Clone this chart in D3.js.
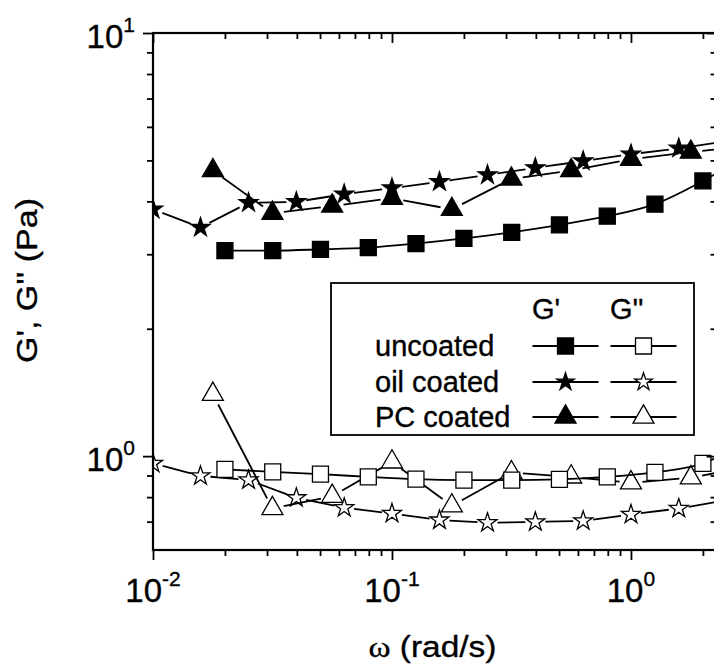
<!DOCTYPE html>
<html>
<head>
<meta charset="utf-8">
<script src="https://cdnjs.cloudflare.com/ajax/libs/d3/7.8.5/d3.min.js"></script>
<style>
    html, body { margin: 0; padding: 0; background: #fff; }
    svg { display: block; }
    text { font-family: "Liberation Sans", Arial, sans-serif; fill: #000; stroke: #000; stroke-width: 0.35px; }
</style>
</head>
<body>
<div id="chart"></div>
<script>
// frequency points (rad/s)
var uncoatedW = [0.02, 0.0317, 0.0502, 0.0796, 0.126, 0.2, 0.317, 0.502, 0.796, 1.26, 2.0, 3.17];
var uncoatedG1 = [3.06, 3.06, 3.08, 3.11, 3.18, 3.27, 3.38, 3.52, 3.69, 3.94, 4.47, 5.2];
var uncoatedG2 = [0.930, 0.918, 0.907, 0.893, 0.882, 0.878, 0.878, 0.881, 0.893, 0.915, 0.961, 1.10];

var oilW = [0.01, 0.0158, 0.0251, 0.0398, 0.0631, 0.1, 0.158, 0.251, 0.398, 0.631, 1.0, 1.585, 2.51];
var oilG1 = [3.83, 3.47, 3.97, 3.99, 4.16, 4.30, 4.45, 4.62, 4.80, 4.98, 5.17, 5.34, 5.55];
var oilG2 = [0.961, 0.898, 0.878, 0.797, 0.755, 0.732, 0.706, 0.696, 0.699, 0.703, 0.728, 0.752, 0.787];

var pcW = [0.0178, 0.0316, 0.0562, 0.1, 0.178, 0.316, 0.562, 1.0, 1.78, 3.16];
var pcG1 = [4.73, 3.75, 3.90, 4.07, 3.83, 4.52, 4.73, 5.03, 5.23, 5.41];
var pcG2 = [1.40, 0.752, 0.804, 0.969, 0.763, 0.914, 0.893, 0.865, 0.889, 0.947];

var legendNames = ["uncoated", "oil coated", "PC coated"];
var legendHeads = ["G'", "G''"];

var xMajor = [0.01, 0.1, 1];
var xExp = ["-2", "-1", "0"];
var xMinor = [0.02, 0.03, 0.04, 0.05, 0.06, 0.07, 0.08, 0.09, 0.2, 0.3, 0.4, 0.5, 0.6, 0.7, 0.8, 0.9, 2];
var yMajor = [1, 10];
var yExp = ["0", "1"];
var yMinor = [0.7, 0.8, 0.9, 2, 3, 4, 5, 6, 7, 8, 9];

(function () {
    "use strict";

    var W = 714, H = 666,
        left = 153, top = 33, right = 716.5, bottom = 550;

    var svg = d3.select("#chart")
        .append("svg")
        .attr("width", W)
        .attr("height", H);

    var x = d3.scaleLog().domain([0.01, 2.28]).range([left, right]);
    var y = d3.scaleLog().domain([0.6, 10]).range([bottom, top]);

    svg.append("clipPath").attr("id", "plotclip")
        .append("rect")
        .attr("x", left).attr("y", top)
        .attr("width", right - left).attr("height", bottom - top);

    var sq = d3.symbol().type(d3.symbolSquare).size(256),
        tri = d3.symbol().type(d3.symbolTriangle).size(191),
        star = d3.symbol().type(d3.symbolStar).size(112),
        starSmall = d3.symbol().type(d3.symbolStar).size(97);

    var plot = svg.append("g").attr("clip-path", "url(#plotclip)");

    // line pieces that stop short of the symbols
    var gapped = function (ws, vs, gap) {
        var out = [];
        for (var i = 0; i < ws.length - 1; i++) {
            var x1 = x(ws[i]), y1 = y(vs[i]), x2 = x(ws[i + 1]), y2 = y(vs[i + 1]);
            var dx = x2 - x1, dy = y2 - y1, len = Math.sqrt(dx * dx + dy * dy);
            if (len <= 2 * gap) { continue; }
            var ux = dx / len, uy = dy / len;
            out.push([x1 + ux * gap, y1 + uy * gap, x2 - ux * gap, y2 - uy * gap]);
        }
        return out;
    };

    var drawGapped = function (ws, vs, gap) {
        plot.append("g").selectAll("line")
            .data(gapped(ws, vs, gap))
            .enter()
            .append("line")
            .attr("x1", function (d) { return d[0]; })
            .attr("y1", function (d) { return d[1]; })
            .attr("x2", function (d) { return d[2]; })
            .attr("y2", function (d) { return d[3]; })
            .attr("stroke", "#000")
            .attr("stroke-width", 1.8);
    };

    var drawCurve = function (ws, vs) {
        var line = d3.line()
            .x(function (d) { return x(d[0]); })
            .y(function (d) { return y(d[1]); })
            .curve(d3.curveMonotoneX);
        plot.append("path")
            .datum(d3.zip(ws, vs))
            .attr("d", line)
            .attr("fill", "none")
            .attr("stroke", "#000")
            .attr("stroke-width", 1.8);
    };

    var drawMarks = function (ws, vs, sym, filled) {
        plot.append("g").selectAll("path")
            .data(d3.zip(ws, vs))
            .enter()
            .append("path")
            .attr("transform", function (d) { return "translate(" + x(d[0]) + "," + y(d[1]) + ")"; })
            .attr("d", sym)
            .attr("fill", filled ? "#000" : "#fff")
            .attr("stroke", "#000")
            .attr("stroke-width", 1.3);
    };

    // oil coated
    drawGapped(oilW, oilG1, 10);
    drawMarks(oilW, oilG1, star, true);
    drawGapped(oilW, oilG2, 10);
    drawMarks(oilW, oilG2, star, false);

    // PC coated
    drawGapped(pcW, pcG1, 11.5);
    drawMarks(pcW, pcG1, tri, true);
    drawGapped(pcW, pcG2, 11.5);
    drawMarks(pcW, pcG2, tri, false);

    // uncoated
    drawCurve(uncoatedW, uncoatedG1);
    drawMarks(uncoatedW, uncoatedG1, sq, true);
    drawCurve(uncoatedW, uncoatedG2);
    drawMarks(uncoatedW, uncoatedG2, sq, false);

    // axes: outward ticks left/bottom, inward ticks top/right
    var styleAxis = function (g) {
        g.select(".domain").remove();
        g.selectAll(".tick line").attr("stroke", "#000").attr("stroke-width", 1.8);
    };

    svg.append("g").attr("transform", "translate(0," + bottom + ")")
        .call(d3.axisBottom(x).tickValues(xMajor).tickSize(10).tickFormat("")).call(styleAxis);
    svg.append("g").attr("transform", "translate(0," + bottom + ")")
        .call(d3.axisBottom(x).tickValues(xMinor).tickSize(6).tickFormat("")).call(styleAxis);
    svg.append("g").attr("transform", "translate(0," + top + ")")
        .call(d3.axisTop(x).tickValues(xMajor).tickSize(-10).tickFormat("")).call(styleAxis);
    svg.append("g").attr("transform", "translate(0," + top + ")")
        .call(d3.axisTop(x).tickValues(xMinor).tickSize(-6).tickFormat("")).call(styleAxis);
    svg.append("g").attr("transform", "translate(" + left + ",0)")
        .call(d3.axisLeft(y).tickValues(yMajor).tickSize(10).tickFormat("")).call(styleAxis);
    svg.append("g").attr("transform", "translate(" + left + ",0)")
        .call(d3.axisLeft(y).tickValues(yMinor).tickSize(6).tickFormat("")).call(styleAxis);
    svg.append("g").attr("transform", "translate(" + right + ",0)")
        .call(d3.axisRight(y).tickValues(yMajor).tickSize(-10).tickFormat("")).call(styleAxis);
    svg.append("g").attr("transform", "translate(" + right + ",0)")
        .call(d3.axisRight(y).tickValues(yMinor).tickSize(-6).tickFormat("")).call(styleAxis);

    svg.append("rect")
        .attr("x", left).attr("y", top)
        .attr("width", right - left).attr("height", bottom - top)
        .attr("fill", "none")
        .attr("stroke", "#000")
        .attr("stroke-width", 2.2);

    // tick labels with superscript exponents
    var xl = svg.append("g").selectAll("text")
        .data(xMajor)
        .enter()
        .append("text")
        .attr("x", function (d) { return x(d); })
        .attr("y", 602)
        .attr("text-anchor", "middle")
        .attr("font-size", 33)
        .text("10");
    xl.append("tspan")
        .attr("font-size", 21)
        .attr("dy", -16)
        .text(function (d, i) { return xExp[i]; });

    var yl = svg.append("g").selectAll("text")
        .data(yMajor)
        .enter()
        .append("text")
        .attr("x", 135)
        .attr("y", function (d) { return y(d) + 15; })
        .attr("text-anchor", "end")
        .attr("font-size", 33)
        .text("10");
    yl.append("tspan")
        .attr("font-size", 21)
        .attr("dy", -16)
        .text(function (d, i) { return yExp[i]; });

    // axis titles
    var xt = svg.append("text")
        .attr("x", 432.5)
        .attr("y", 657)
        .attr("text-anchor", "middle")
        .attr("font-size", 29)
        .attr("textLength", 128)
        .attr("lengthAdjust", "spacingAndGlyphs");
    xt.append("tspan").attr("font-family", "Liberation Serif, serif").text("\u03c9");
    xt.append("tspan").text(" (rad/s)");

    svg.append("text")
        .attr("transform", "translate(37,280.5) rotate(-90)")
        .attr("text-anchor", "middle")
        .attr("font-size", 30)
        .attr("textLength", 165)
        .attr("lengthAdjust", "spacingAndGlyphs")
        .text("G', G'' (Pa)");

    // legend
    var lg = svg.append("g");
    lg.append("rect")
        .attr("x", 331).attr("y", 283)
        .attr("width", 363).attr("height", 152)
        .attr("fill", "#fff")
        .attr("stroke", "#000")
        .attr("stroke-width", 1.8);

    var headX = [532, 610],
        symX = [565.5, 643.5],
        rowY = [346, 382, 417],
        rowSyms = [[sq, sq], [starSmall, starSmall], [tri, tri]];

    lg.selectAll("text.head")
        .data(legendHeads)
        .enter()
        .append("text")
        .attr("class", "head")
        .attr("x", function (d, i) { return headX[i]; })
        .attr("y", 319)
        .attr("font-size", 29)
        .text(function (d) { return d; });

    legendNames.forEach(function (name, r) {
        lg.append("text")
            .attr("x", 375)
            .attr("y", rowY[r] + 10)
            .attr("font-size", 29)
            .text(name);
        [0, 1].forEach(function (c) {
            lg.append("line")
                .attr("x1", symX[c] - 33).attr("x2", symX[c] + 33)
                .attr("y1", rowY[r]).attr("y2", rowY[r])
                .attr("stroke", "#000")
                .attr("stroke-width", 1.8);
            lg.append("path")
                .attr("transform", "translate(" + symX[c] + "," + rowY[r] + ")")
                .attr("d", rowSyms[r][c])
                .attr("fill", c === 0 ? "#000" : "#fff")
                .attr("stroke", "#000")
                .attr("stroke-width", 1.3);
        });
    });
})();
</script>
</body>
</html>
